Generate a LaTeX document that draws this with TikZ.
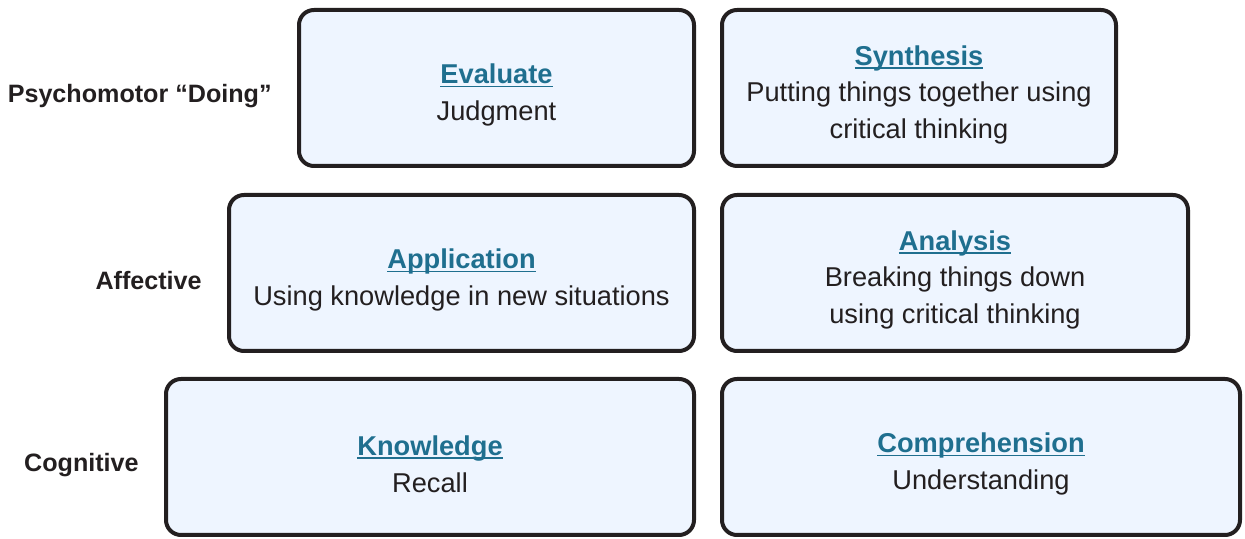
\documentclass[tikz,border=0pt]{standalone}
\usepackage{fontspec}
\setmainfont{Liberation Sans}
\usetikzlibrary{positioning}
\definecolor{boxfill}{HTML}{EEF5FF}
\definecolor{boxline}{HTML}{231F20}
\definecolor{headblue}{HTML}{1F6F8F}
% heading: bold, blue, underlined close to the baseline; the strut drops the text a little
\newcommand{\boxhead}[1]{\rule{0pt}{0.67cm}\setbox0\hbox{\textbf{#1}}\textcolor{headblue}{\rlap{\rule[-0.08cm]{\wd0}{0.035cm}}\box0}}

\begin{document}
\begin{tikzpicture}
[levelbox/.style={rectangle,rounded corners=0.3cm,draw=boxline,fill=boxfill,line width=0.08cm,align=center,font=\fontsize{15.5}{21}\selectfont,text=boxline,minimum height=3.12cm},
domainlabel/.style={font=\fontsize{14.3}{17}\selectfont\bfseries,text=boxline,inner sep=0pt,yshift=-0.16cm}]
\useasboundingbox (0,0) rectangle (24.9,-10.78);

\node[levelbox,minimum width=7.9cm] (eval) at (9.93,-1.76) {\boxhead{Evaluate}\\Judgment};
\node[levelbox,minimum width=7.88cm] (synth) at (18.38,-1.76) {\boxhead{Synthesis}\\Putting things together using\\critical thinking};

\node[levelbox,minimum width=9.3cm] (appl) at (9.23,-5.46) {\boxhead{Application}\\Using knowledge in new situations};
\node[levelbox,minimum width=9.32cm] (anal) at (19.10,-5.46) {\boxhead{Analysis}\\Breaking things down\\using critical thinking};

\node[levelbox,minimum width=10.56cm] (know) at (8.60,-9.14) {\boxhead{Knowledge}\\Recall};
\node[levelbox,minimum width=10.36cm] (comp) at (19.62,-9.14) {\boxhead{Comprehension}\\Understanding};

\node[domainlabel,left=0.5cm of eval] (psycho) {Psychomotor \textquotedblleft Doing\textquotedblright};
\node[domainlabel,left=0.5cm of appl] (affect) {Affective};
\node[domainlabel,left=0.5cm of know] (cogn) {Cognitive};
\end{tikzpicture}
\end{document}
